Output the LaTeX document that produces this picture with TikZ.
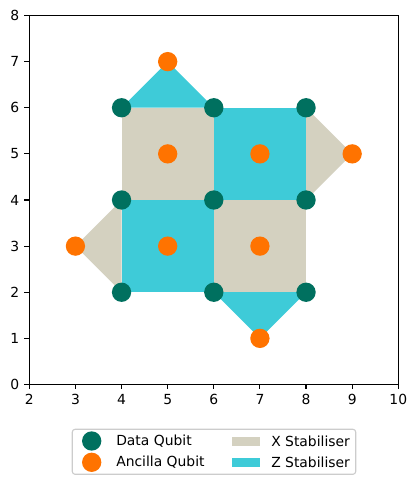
\documentclass[tikz,border=0pt]{standalone}
\usepackage{fontspec}
\setmainfont{DejaVu Sans}
\definecolor{dataq}{HTML}{00705F}
\definecolor{ancq}{HTML}{FF7300}
\definecolor{xstab}{HTML}{D4D1C0}
\definecolor{zstab}{HTML}{3ECBD8}
\tikzset{
  datadot/.style={circle, fill=dataq, inner sep=0pt, minimum size=13.9pt},
  ancdot/.style={circle, fill=ancq, inner sep=0pt, minimum size=13.9pt},
  xpatch/.style={fill=xstab, draw=none},
  zpatch/.style={fill=zstab, draw=none},
  ticklab/.style={font=\fontsize{10pt}{12pt}\selectfont, inner sep=0pt},
  legtext/.style={font=\fontsize{10pt}{12pt}\selectfont, anchor=west, inner sep=0pt},
}
\begin{document}
\begin{tikzpicture}[x=0.72pt, y=0.72pt]
\useasboundingbox (0,0) rectangle (417,485);
\begin{scope}[shift={(-62.95,100.5)}, x=33.21pt, y=33.21pt]
  % X stabilisers
  \fill[xpatch] (4,4) rectangle (6,6);
  \fill[xpatch] (6,2) rectangle (8,4);
  \fill[xpatch] (8,6) -- (9,5) -- (8,4) -- cycle;
  \fill[xpatch] (4,4) -- (3,3) -- (4,2) -- cycle;
  % Z stabilisers
  \fill[zpatch] (6,4) rectangle (8,6);
  \fill[zpatch] (4,2) rectangle (6,4);
  \fill[zpatch] (4,6) -- (5,7) -- (6,6) -- cycle;
  \fill[zpatch] (6,2) -- (7,1) -- (8,2) -- cycle;
  % data qubits
  \foreach \px/\py [count=\i] in {4/6,6/6,8/6,4/4,6/4,8/4,4/2,6/2,8/2}
    \node[datadot] (d\i) at (\px,\py) {};
  % ancilla qubits
  \foreach \px/\py [count=\i] in {5/7,5/5,7/5,9/5,3/3,5/3,7/3,7/1}
    \node[ancdot] (a\i) at (\px,\py) {};
  % axes frame
  \draw[line width=0.8pt] (2,0) rectangle (10,8);
  \foreach \t in {2,...,10} {
    \draw[line width=0.8pt] (\t,0) -- ++(0,-3.5pt);
    \node[ticklab, anchor=north] (xt\t) at ([yshift=-7pt]\t,0) {\t};
  }
  \foreach \t in {0,...,8} {
    \draw[line width=0.8pt] (2,\t) -- ++(-3.5pt,0);
    \node[ticklab, anchor=east] (yt\t) at ([xshift=-7pt]2,\t) {\t};
  }
\end{scope}
% legend
\draw[draw=black!20, fill=white, rounded corners=2pt, line width=0.8pt] (72.3,10.7) rectangle (355.7,55.7);
\node[datadot] (ld) at (91.7,44) {};
\node[ancdot] (la) at (91.7,22.7) {};
\node[legtext] (ldt) at (116,44) {Data Qubit};
\node[legtext] (lat) at (116,22.7) {Ancilla Qubit};
\fill[xstab] (231.7,39.3) rectangle (260,48.3);
\fill[zstab] (231.7,18.2) rectangle (260,27.2);
\node[legtext] (lxt) at (271,44) {X Stabiliser};
\node[legtext] (lzt) at (271,22.7) {Z Stabiliser};
\end{tikzpicture}
\end{document}
